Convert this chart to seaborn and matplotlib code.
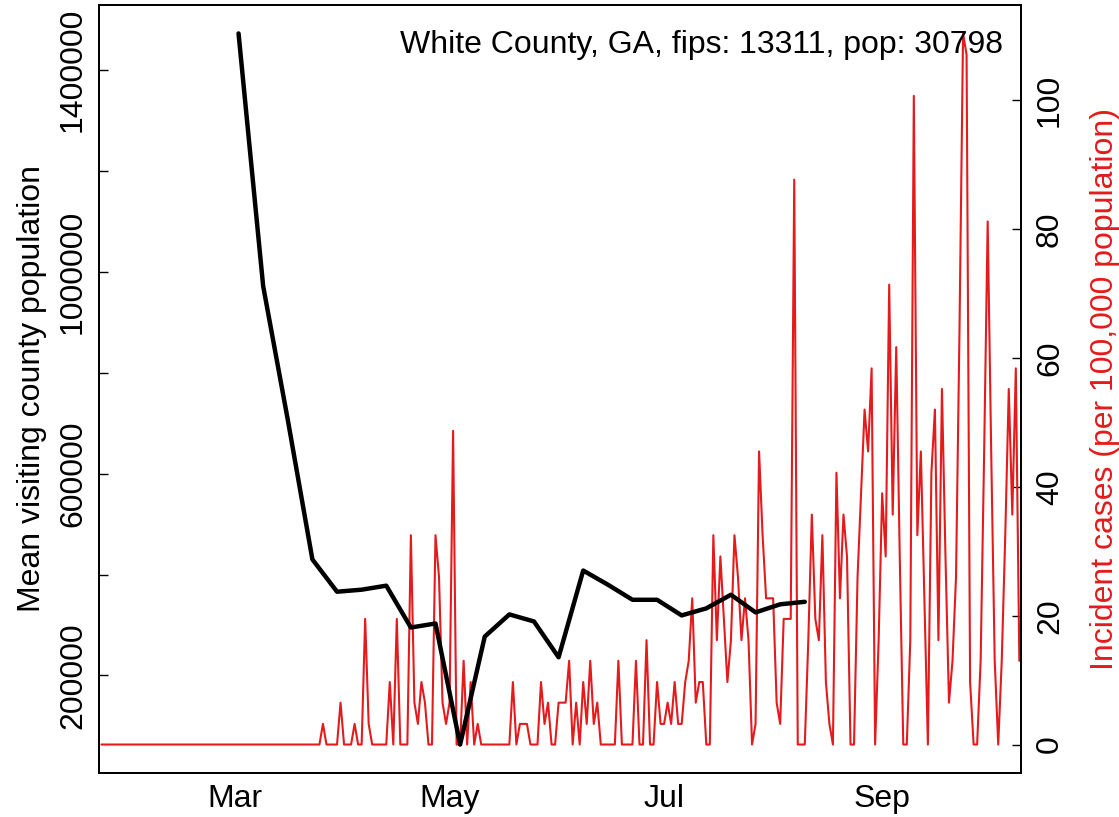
import matplotlib
matplotlib.use("Agg")
import matplotlib.pyplot as plt
import numpy as np
import pandas as pd
import seaborn as sns

sns.set_style("white")
plt.rcParams['font.family'] = ['Liberation Sans', 'DejaVu Sans']
plt.rcParams['text.color'] = 'black'
plt.rcParams['axes.labelcolor'] = 'black'

# --- data ---
county_label = "White County, GA, fips: 13311, pop: 30798"

# weekly mean visiting county population (black line)
mobility_start = "2020-03-02"
mobility_values = [1473000, 972000, 707000, 430000, 366000, 370000, 378000,
                   295000, 303000, 63000, 277000, 321000, 307000, 236000,
                   408000, 380000, 350000, 350000, 319000, 333000, 360000,
                   325000, 341000, 346000]

# daily incident cases per 100,000 (red line), from Jan 23
cases_start = "2020-01-23"
incident_cases = [
    # Jan 23 - Feb 29
    0, 0, 0, 0, 0, 0, 0, 0, 0, 0, 0, 0, 0, 0, 0, 0, 0, 0, 0,
    0, 0, 0, 0, 0, 0, 0, 0, 0, 0, 0, 0, 0, 0, 0, 0, 0, 0, 0,
    # Mar
    0, 0, 0, 0, 0, 0, 0, 0, 0, 0, 0, 0, 0, 0, 0, 0, 0, 0, 0, 0, 0, 0, 0, 0, 0,
    3.2, 0, 0, 0, 0, 6.5,
    # Apr
    0, 0, 0, 3.2, 0, 0, 19.5, 3.2, 0, 0, 0, 0, 0, 9.7, 0, 19.5, 0, 0, 0,
    32.5, 6.5, 3.2, 9.7, 6.5, 0, 0, 32.5, 26.0, 6.5, 3.2,
    # May
    6.5, 48.7, 0, 0, 13.0, 0, 9.7, 0, 3.2, 0, 0, 0, 0, 0, 0, 0, 0, 0,
    9.7, 0, 3.2, 3.2, 3.2, 0, 0, 0, 9.7, 3.2, 6.5, 0, 0,
    # Jun
    6.5, 6.5, 6.5, 13.0, 0, 6.5, 0, 9.7, 3.2, 13.0, 3.2, 6.5, 0, 0, 0, 0, 0,
    13.0, 0, 0, 0, 0, 13.0, 0, 0, 16.2, 0, 0, 9.7, 3.2,
    # Jul
    3.2, 6.5, 3.2, 9.7, 3.2, 3.2, 9.7, 13.0, 22.7, 6.5, 9.7, 9.7, 0, 0,
    32.5, 16.2, 29.2, 19.5, 9.7, 16.2, 32.5, 26.0, 16.2, 22.7, 16.2, 0,
    3.2, 45.5, 32.5, 22.7, 22.7,
    # Aug
    22.7, 6.5, 3.2, 19.5, 19.5, 19.5, 87.7, 0, 0, 0, 16.2, 35.7, 19.5,
    16.2, 32.5, 9.7, 3.2, 0, 42.2, 22.7, 35.7, 29.2, 0, 0, 26.0, 39.0,
    52.0, 45.5, 58.4, 0, 16.2,
    # Sep
    39.0, 29.2, 71.4, 35.7, 61.7, 29.2, 0, 0, 16.2, 100.7, 32.5, 45.5,
    22.7, 0, 42.2, 52.0, 16.2, 55.2, 29.2, 6.5, 13.0, 26.0, 64.9, 110.4,
    107.1, 9.7, 0, 0, 13.0, 45.5,
    # Oct 1 - 10
    81.2, 45.5, 13.0, 0, 13.0, 32.5, 55.2, 35.7, 58.4, 13.0,
]

month_ticks = ["2020-03-01", "2020-05-01", "2020-07-01", "2020-09-01"]
month_labels = ["Mar", "May", "Jul", "Sep"]
left_ticks = [200000, 400000, 600000, 800000, 1000000, 1200000, 1400000]
left_labels = ["200000", "", "600000", "", "1000000", "", "1400000"]
right_ticks = [0, 20, 40, 60, 80, 100]

mobility = pd.DataFrame({
    "date": pd.date_range(mobility_start, periods=len(mobility_values), freq="7D"),
    "visitors": mobility_values,
})
cases = pd.DataFrame({
    "date": pd.date_range(cases_start, periods=len(incident_cases), freq="D"),
    "incidence": incident_cases,
})


def r_limits(values):
    # base R style 4% padding around the data range
    lo, hi = min(values), max(values)
    pad = 0.04 * (hi - lo)
    return lo - pad, hi + pad


RED = "#E41A1C"
FS = 23

fig = plt.figure(figsize=(11.19, 8.17), dpi=100)
ax = fig.add_axes([0.0885, 0.0539, 0.8240, 0.9400])
ax2 = ax.twinx()

sns.lineplot(data=cases, x="date", y="incidence", ax=ax2, color=RED,
             linewidth=1.5, estimator=None)
sns.lineplot(data=mobility, x="date", y="visitors", ax=ax, color="black",
             linewidth=3.2, estimator=None)

# black line on top of red
ax.set_zorder(ax2.get_zorder() + 1)
ax.patch.set_visible(False)

ax.set_xlim(pd.Timestamp("2020-01-22 08:00"), pd.Timestamp("2020-10-10 12:00"))
ax.set_ylim(*r_limits(mobility_values))
ax2.set_ylim(*r_limits(incident_cases))

ax.set_xticks(pd.to_datetime(month_ticks))
ax.set_xticklabels(month_labels, fontsize=FS)
ax.set_yticks(left_ticks)
ax.set_yticklabels(left_labels, fontsize=FS, rotation=90, va="center")
ax2.set_yticks(right_ticks)
ax2.set_yticklabels([str(t) for t in right_ticks], fontsize=FS,
                    rotation=90, va="center")

ax.tick_params(axis="both", direction="in", length=6.5, width=1, pad=8,
               colors="black")
ax.tick_params(axis="x", pad=8)
ax2.tick_params(axis="y", direction="in", length=6.5, width=1, pad=10,
                colors="black")

ax.set_xlabel("")
ax.set_ylabel("Mean visiting county population", fontsize=FS, labelpad=8)
ax2.set_ylabel("Incident cases (per 100,000 population)", fontsize=FS,
               color=RED, labelpad=18)

for a in (ax, ax2):
    for s in a.spines.values():
        s.set_visible(True)
        s.set_color("black")
        s.set_linewidth(1.3)

ax.text(0.9805, 0.948, county_label, transform=ax.transAxes, ha="right",
        va="center", fontsize=FS, color="black")

fig.savefig("out.png", dpi=100)
